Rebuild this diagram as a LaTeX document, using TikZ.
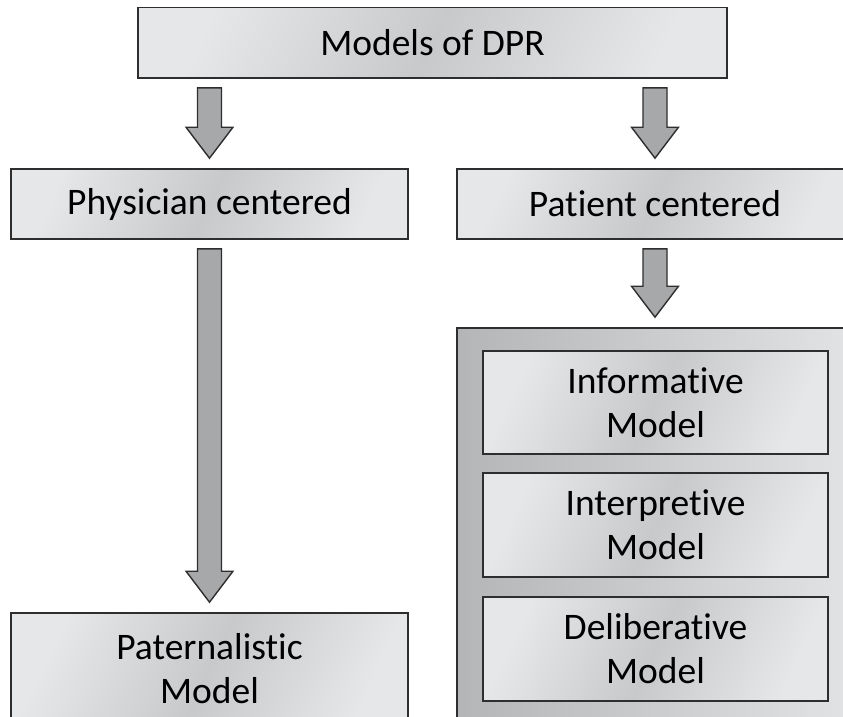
\documentclass[tikz,border=0pt]{standalone}
\usepackage{fontspec}
\setmainfont[RawFeature=-liga]{Carlito}
\usetikzlibrary{calc}

\definecolor{rimgray}{HTML}{2E2E2E}
\definecolor{silverlight}{HTML}{E6E7E9}
\definecolor{silverdark}{HTML}{C8C9CB}
\definecolor{panelleft}{HTML}{B4B5B7}
\definecolor{panelright}{HTML}{E2E3E5}
\definecolor{arrowgray}{HTML}{A7A8AA}

% Block arrow from the lower edge of node #1 down to the top of node #2
\newcommand\blockarrow[2]{%
  \draw[arrowbody]
    ($(#1.south -| #2.north)+(-12,9)$) -- ($(#1.south -| #2.north)+(12,9)$)
    -- ($(#2.north)+(12,-41)$) -- ($(#2.north)+(23.5,-41)$)
    -- ($(#2.north)+(0,-10)$)
    -- ($(#2.north)+(-23.5,-41)$) -- ($(#2.north)+(-12,-41)$) -- cycle;}

\begin{document}
\begin{tikzpicture}[x=1pt,y=-1pt,
  silverbox/.style={draw=rimgray, line width=1.6pt, rectangle, inner sep=0pt,
    align=center, font=\fontsize{37.5}{44}\selectfont,
    left color=silverlight, right color=silverlight, middle color=silverdark,
    shading angle=65},
  panel/.style={draw=rimgray, line width=1.6pt, rectangle, inner sep=0pt,
    left color=panelleft, right color=panelright},
  arrowbody/.style={draw=rimgray, line width=1.4pt, fill=arrowgray, line join=miter}]
\useasboundingbox (0,0) rectangle (843,716);
\clip (0,0) rectangle (843,716);

% title
\node[silverbox, minimum width=589pt, minimum height=70.5pt] (dpr) at (432.5,42.75) {Models of DPR};

% two branches
\node[silverbox, minimum width=397pt, minimum height=70pt] (phys) at (209.5,204) {Physician centered};
\node[silverbox, minimum width=396pt, minimum height=70pt] (pat) at (655,204) {Patient centered};

% physician-centered result
\node[silverbox, minimum width=397pt, minimum height=112pt] (patern) at (209.5,669) {Paternalistic\\Model};

% patient-centered models
\node[panel, minimum width=396pt, minimum height=397pt] (group) at (655,526.5) {};
\node[silverbox, minimum width=345pt, minimum height=103pt] (inform) at (655.5,402.5) {Informative\\Model};
\node[silverbox, minimum width=345pt, minimum height=104pt] (interp) at (655.5,525) {Interpretive\\Model};
\node[silverbox, minimum width=345pt, minimum height=104pt] (delib) at (655.5,649) {Deliberative\\Model};

% arrows
\blockarrow{dpr}{phys}
\blockarrow{dpr}{pat}
\blockarrow{phys}{patern}
\blockarrow{pat}{group}
\end{tikzpicture}
\end{document}
